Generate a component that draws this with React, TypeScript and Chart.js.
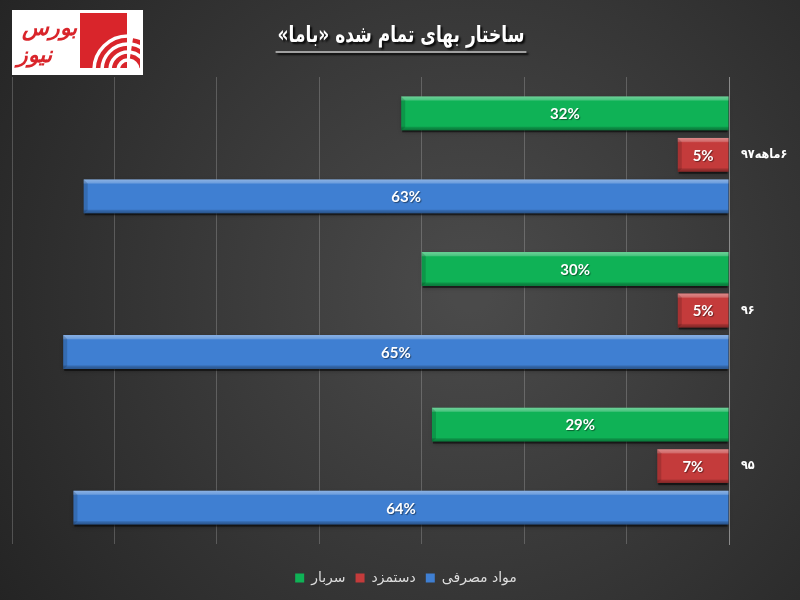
import { useEffect, useRef } from 'react';
import { Chart, registerables } from 'chart.js';

Chart.register(...registerables);

const categories = ['۶ماهه۹۷', '۹۶', '۹۵'];
const overheadValues = [32, 30, 29];
const wageValues = [5, 5, 7];
const materialValues = [63, 65, 64];
const seriesNames = ['سربار', 'دستمزد', 'مواد مصرفی'];
const titleText = 'ساختار بهای تمام شده «باما»';
const logoWords = ['بورس', 'نیوز'];
const axisMax = 70;
const axisStep = 10;

const seriesColors = ['#0fb256', '#c43b3b', '#3f7fd2'];

function barBox(el: any) {
  const p = el.getProps(['x', 'y', 'base', 'height'], true);
  const l = Math.min(p.x, p.base);
  const r = Math.max(p.x, p.base);
  return { l, r, t: p.y - p.height / 2, h: p.height, cy: p.y };
}

const decorPlugin = {
  id: 'decor',
  beforeDraw(chart: any) {
    const { ctx, width, height } = chart;
    ctx.save();
    const g = ctx.createRadialGradient(470, 290, 20, 470, 290, 580);
    g.addColorStop(0, '#4a4a4a');
    g.addColorStop(1, '#232323');
    ctx.fillStyle = g;
    ctx.fillRect(0, 0, width, height);

    // logo
    ctx.fillStyle = '#ffffff';
    ctx.fillRect(12, 10, 131, 65);
    ctx.fillStyle = '#d9252b';
    ctx.fillRect(80, 13, 47, 55);
    ctx.save();
    ctx.beginPath();
    ctx.rect(80, 13, 60, 56);
    ctx.clip();
    const cx = 128, cy = 70;
    [34, 26, 18, 10].forEach((r, i) => {
      ctx.beginPath();
      ctx.arc(cx, cy, r, Math.PI * 1.0, Math.PI * 1.8);
      ctx.strokeStyle = '#ffffff';
      ctx.lineWidth = 3.5;
      ctx.stroke();
      if (i > 0) {
        ctx.beginPath();
        ctx.arc(cx, cy, r + 4, Math.PI * 1.55, Math.PI * 1.95);
        ctx.strokeStyle = '#d9252b';
        ctx.lineWidth = 4.5;
        ctx.stroke();
      }
    });
    ctx.restore();
    ctx.fillStyle = '#d9252b';
    ctx.direction = 'rtl';
    ctx.textBaseline = 'middle';
    ctx.font = 'italic bold 22px "DejaVu Serif"';
    ctx.textAlign = 'right';
    ctx.fillText(logoWords[0], 77, 29);
    ctx.textAlign = 'center';
    ctx.fillText(logoWords[1], 34, 56);

    // title
    ctx.font = 'bold 23px "DejaVu Sans"';
    ctx.textAlign = 'center';
    ctx.textBaseline = 'middle';
    const sx = 0.74;
    const tw = ctx.measureText(titleText).width * sx;
    ctx.shadowColor = 'rgba(0,0,0,0.85)';
    ctx.shadowOffsetX = 2;
    ctx.shadowOffsetY = 2;
    ctx.shadowBlur = 2;
    ctx.fillStyle = '#ffffff';
    ctx.save();
    ctx.translate(401, 36);
    ctx.scale(sx, 1);
    ctx.fillText(titleText, 0, 0);
    ctx.restore();
    ctx.strokeStyle = '#a0a0a0';
    ctx.lineWidth = 2;
    ctx.beginPath();
    ctx.moveTo(401 - tw / 2 - 2, 52);
    ctx.lineTo(401 + tw / 2 + 2, 52);
    ctx.stroke();
    ctx.restore();
  },
  beforeDatasetsDraw(chart: any) {
    const { ctx } = chart;
    ctx.save();
    chart.data.datasets.forEach((_ds: any, i: number) => {
      chart.getDatasetMeta(i).data.forEach((el: any) => {
        const b = barBox(el);
        ctx.shadowColor = 'rgba(0,0,0,0.6)';
        ctx.shadowBlur = 4;
        ctx.fillStyle = 'rgba(0,0,0,0.5)';
        ctx.fillRect(b.l + 1, b.t + 2, b.r - b.l - 2, b.h);
      });
    });
    ctx.restore();
  },
  afterDatasetsDraw(chart: any) {
    const { ctx } = chart;
    ctx.save();
    chart.data.datasets.forEach((ds: any, i: number) => {
      chart.getDatasetMeta(i).data.forEach((el: any, j: number) => {
        const b = barBox(el);
        const g = ctx.createLinearGradient(0, b.t, 0, b.t + b.h);
        g.addColorStop(0, 'rgba(255,255,255,0.4)');
        g.addColorStop(0.1, 'rgba(255,255,255,0.25)');
        g.addColorStop(0.14, 'rgba(255,255,255,0.0)');
        g.addColorStop(0.88, 'rgba(0,0,0,0.0)');
        g.addColorStop(0.92, 'rgba(0,0,0,0.18)');
        g.addColorStop(1, 'rgba(0,0,0,0.35)');
        ctx.fillStyle = g;
        ctx.fillRect(b.l, b.t, b.r - b.l, b.h);
        ctx.fillStyle = 'rgba(0,0,0,0.15)';
        ctx.beginPath();
        ctx.moveTo(b.l, b.t);
        ctx.lineTo(b.l + 4, b.t + 4);
        ctx.lineTo(b.l + 4, b.t + b.h - 3);
        ctx.lineTo(b.l, b.t + b.h);
        ctx.closePath();
        ctx.fill();

        const v = ds.data[j];
        ctx.font = 'bold 15px Lato';
        ctx.textAlign = 'center';
        ctx.textBaseline = 'middle';
        ctx.shadowColor = 'rgba(0,0,0,0.45)';
        ctx.shadowOffsetX = 1;
        ctx.shadowOffsetY = 1;
        ctx.shadowBlur = 1;
        ctx.fillStyle = '#ffffff';
        ctx.fillText(v + '%', (b.l + b.r) / 2, b.cy + 1);
        ctx.shadowColor = 'transparent';
      });
    });
    ctx.restore();
  },
};

export default function App() {
  const ref = useRef<HTMLCanvasElement | null>(null);
  useEffect(() => {
    if (!ref.current) return;
    const chart = new Chart(ref.current, {
      type: 'bar',
      data: {
        labels: categories,
        datasets: [
          { label: seriesNames[0], data: overheadValues, backgroundColor: seriesColors[0] },
          { label: seriesNames[1], data: wageValues, backgroundColor: seriesColors[1] },
          { label: seriesNames[2], data: materialValues, backgroundColor: seriesColors[2] },
        ],
      },
      options: {
        indexAxis: 'y',
        responsive: false,
        animation: false,
        layout: { padding: { left: 12, right: 0, top: 77, bottom: 5 } },
        datasets: { bar: { categoryPercentage: 0.8, barPercentage: 0.815 } },
        scales: {
          x: {
            reverse: true,
            min: 0,
            max: axisMax,
            ticks: { display: false, stepSize: axisStep },
            grid: { color: 'rgba(255,255,255,0.2)', drawTicks: false },
            border: { display: false },
            afterFit: (s: any) => { s.height = 17; },
          },
          y: {
            position: 'right',
            grid: { display: false, drawTicks: false },
            border: { color: '#8a8a8a' },
            ticks: {
              color: '#ffffff',
              padding: 12,
              font: { family: '"DejaVu Sans Condensed", "DejaVu Sans"', weight: 'bold', size: 12.5 },
            },
            afterFit: (s: any) => { s.width = 71; },
          },
        },
        plugins: {
          legend: {
            position: 'bottom',
            labels: {
              color: '#dddddd',
              font: { family: 'DejaVu Sans', size: 14 },
              boxWidth: 9,
              boxHeight: 9,
              padding: 10,
            },
          },
          tooltip: { enabled: false },
        },
      },
      plugins: [decorPlugin],
    } as any);
    return () => chart.destroy();
  }, []);
  return (
    <div style={{ position: 'absolute', left: 0, top: 0, width: 800, height: 600 }}>
      <canvas ref={ref} width={800} height={600} dir="rtl" style={{ display: 'block', direction: 'rtl' }} />
    </div>
  );
}
